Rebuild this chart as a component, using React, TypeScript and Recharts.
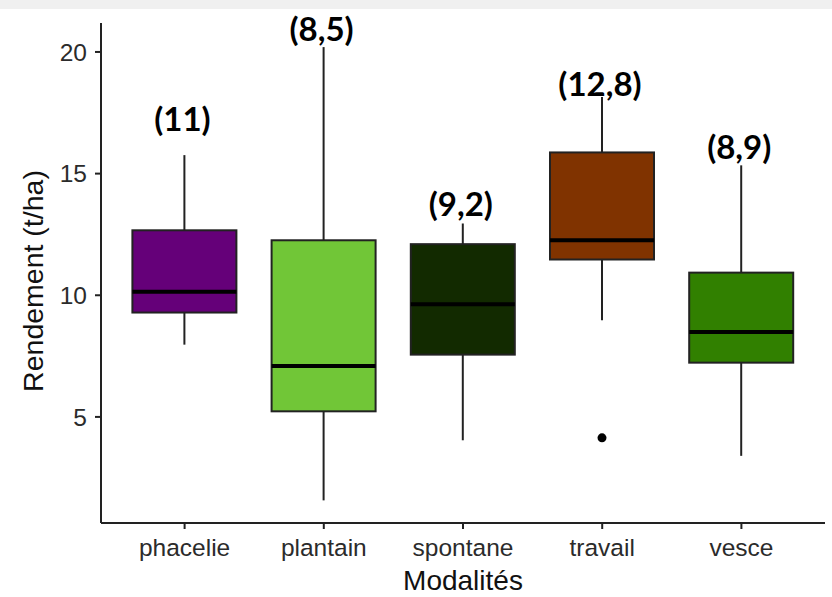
import React from 'react';
import { ComposedChart, Bar, XAxis, YAxis } from 'recharts';

const categories = ['phacelie', 'plantain', 'spontane', 'travail', 'vesce'];
const whiskerLow = [7.97, 1.57, 4.04, 8.97, 3.4];
const quartile1 = [9.29, 5.23, 7.56, 11.47, 7.23];
const medians = [10.14, 7.09, 9.63, 12.26, 8.49];
const quartile3 = [12.67, 12.26, 12.1, 15.87, 10.93];
const whiskerHigh = [15.76, 20.2, 12.95, 18.15, 15.34];
const outliers: number[][] = [[], [], [], [4.14], []];
const annotations = ['(11)', '(8,5)', '(9,2)', '(12,8)', '(8,9)'];
const annotationAt = [17.27, 20.97, 13.8, 18.71, 16.12];
const yTicks = [5, 10, 15, 20];

const fills = ['#650079', '#71C637', '#122A00', '#803300', '#318000'];

const data = categories.map((name, i) => ({
  name,
  range: [whiskerLow[i], whiskerHigh[i]],
  q1: quartile1[i],
  median: medians[i],
  q3: quartile3[i],
  outliers: outliers[i],
  annotation: annotations[i],
  annotationAt: annotationAt[i],
  fill: fills[i],
}));

const STROKE = '#222222';

const BoxShape = (props: any) => {
  const { x, y, width, height, payload } = props;
  const [lo, hi] = payload.range;
  const k = height / (hi - lo);
  const py = (v: number) => y + (hi - v) * k;
  const cx = x + width / 2;
  const yQ3 = py(payload.q3);
  const yQ1 = py(payload.q1);
  return (
    <g>
      <line x1={cx} x2={cx} y1={py(hi)} y2={yQ3} stroke={STROKE} strokeWidth={2} />
      <line x1={cx} x2={cx} y1={yQ1} y2={py(lo)} stroke={STROKE} strokeWidth={2} />
      <rect x={x} y={yQ3} width={width} height={yQ1 - yQ3} fill={payload.fill} stroke={STROKE} strokeWidth={2} />
      <line x1={x} x2={x + width} y1={py(payload.median)} y2={py(payload.median)} stroke="#000" strokeWidth={4} />
      {payload.outliers.map((o: number, j: number) => (
        <circle key={j} cx={cx} cy={py(o)} r={4.5} fill="#000" />
      ))}
      <text
        x={cx - 2}
        y={py(payload.annotationAt)}
        textAnchor="middle"
        dominantBaseline="central"
        fontFamily="Lato, 'Open Sans', sans-serif"
        fontWeight={700}
        fontSize={33}
        fill="#000"
      >
        {payload.annotation}
      </text>
    </g>
  );
};

const FONT = "'Liberation Sans', Arial, sans-serif";

export default function App() {
  return (
    <div style={{ position: 'absolute', left: 0, top: 0, width: 832, height: 597, background: '#fff' }}>
      <div style={{ position: 'absolute', left: 0, top: 0, width: 832, height: 9, background: '#f0f0f0' }} />
      <div style={{ position: 'absolute', left: 0, top: 0 }}>
        <ComposedChart
          width={832}
          height={597}
          data={data}
          margin={{ top: 23, right: 7, bottom: 0, left: 0 }}
          barCategoryGap="12.5%"
        >
          <XAxis
            dataKey="name"
            type="category"
            interval={0}
            padding={{ left: 14, right: 14 }}
            height={74}
            tickSize={6}
            tickMargin={10}
            axisLine={{ stroke: STROKE, strokeWidth: 2 }}
            tickLine={{ stroke: STROKE, strokeWidth: 2 }}
            tick={{ fill: '#2b2b2b', fontSize: 24.5, fontFamily: FONT }}
            label={{
              content: (p: any) => {
                const vb = p.viewBox;
                return (
                  <text x={vb.x + vb.width / 2} y={vb.y + 67} textAnchor="middle" fontSize={28} fontFamily={FONT} fill="#111">
                    Modalités
                  </text>
                );
              },
            }}
          />
          <YAxis
            type="number"
            domain={[0.64, 21.19]}
            ticks={yTicks}
            width={101}
            tickSize={6}
            tickMargin={8}
            axisLine={{ stroke: STROKE, strokeWidth: 2 }}
            tickLine={{ stroke: STROKE, strokeWidth: 2 }}
            tick={{ fill: '#2b2b2b', fontSize: 24.5, fontFamily: FONT }}
            label={{
              content: (p: any) => {
                const vb = p.viewBox;
                const cx = 33;
                const cy = vb.y + vb.height / 2 + 8;
                return (
                  <text
                    x={cx}
                    y={cy}
                    textAnchor="middle"
                    dominantBaseline="central"
                    transform={`rotate(-90 ${cx} ${cy})`}
                    fontSize={28.5}
                    fontFamily={FONT}
                    fill="#111"
                  >
                    Rendement (t/ha)
                  </text>
                );
              },
            }}
          />
          <Bar dataKey="range" shape={<BoxShape />} isAnimationActive={false} />
        </ComposedChart>
      </div>
    </div>
  );
}
